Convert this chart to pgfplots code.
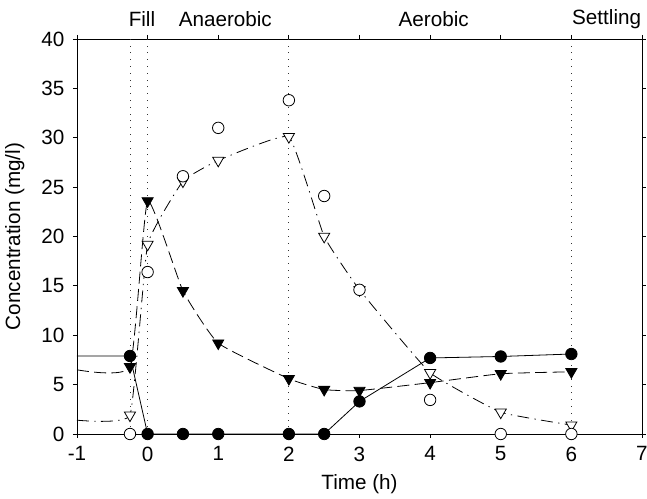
\documentclass[border=0pt]{standalone}
\usepackage{pgfplots}
\pgfplotsset{compat=1.18}
\usepackage{fontspec}
\setmainfont{Liberation Sans}
\begin{document}
\begin{tikzpicture}[x=1pt,y=1pt]
\begin{axis}[
  scale only axis, width=423.75pt, height=296.25pt,
  xmin=-1, xmax=7, ymin=0, ymax=40,
  xtick={-1,0,...,7}, ytick={0,5,...,40},
  tick align=outside, major tick length=3pt,
  tick style={black, line width=0.6pt},
  axis line style={black, line width=0.7pt},
  /pgf/number format/assume math mode=true,
  font=\fontsize{15.5}{18}\selectfont,
  ticklabel style={font=\fontsize{15.5}{18}\selectfont},
  xticklabel style={yshift=-3pt},
  yticklabel style={xshift=-3pt},
  xlabel={Time (h)}, ylabel={Concentration (mg/l)},
  xlabel style={at={(axis description cs:0.5,-0.128)}, anchor=center},
  ylabel style={at={(axis description cs:-0.11,0.5)}, anchor=center},
  clip=false,
]
% vertical dotted lines
\addplot[black!80, line width=0.6pt, dash pattern=on 0.6pt off 4.5pt] coordinates {(-0.25,0) (-0.25,40)};
\addplot[black!80, line width=0.6pt, dash pattern=on 0.6pt off 4.5pt] coordinates {(0,0) (0,40)};
\addplot[black!80, line width=0.6pt, dash pattern=on 0.6pt off 4.5pt] coordinates {(2,0) (2,40)};
\addplot[black!80, line width=0.6pt, dash pattern=on 0.6pt off 4.5pt] coordinates {(6,0) (6,40)};
% open triangles, dash-dot
\addplot[black, line width=0.6pt, dash pattern=on 9pt off 4pt on 1pt off 4pt, smooth, tension=0.2,
  mark=triangle*, mark size=4.8pt, mark phase=2, mark repeat=1,
  mark options={solid, fill=white, line width=0.6pt, rotate=180}] coordinates {
  (-1,1.4) (-0.25,1.9) (0,19.2) (0.5,25.6) (1,27.7) (2,30.1) (2.5,20) (3,14.6) (4,6.2) (5,2.2) (6,0.9)};
% filled triangles, dashed
\addplot[black, line width=0.6pt, dash pattern=on 9pt off 4pt, smooth, tension=0.25,
  mark=triangle*, mark size=4.8pt, mark phase=2, mark repeat=1,
  mark options={solid, fill=black, rotate=180}] coordinates {
  (-1,6.5) (-0.25,6.8) (0,23.6) (0.5,14.5) (1,9.2) (2,5.6) (2.5,4.5) (3,4.4) (4,5.2) (5,6.1) (6,6.3)};
% filled circles, solid
\addplot[black, line width=0.6pt, solid,
  mark=*, mark size=4.3pt, mark phase=2, mark repeat=1,
  mark options={solid, fill=black}] coordinates {
  (-1,7.9) (-0.25,7.9) (0,0) (0.5,0) (1,0) (2,0) (2.5,0) (3,3.3) (4,7.7) (5,7.85) (6,8.1)};
% open circles, no line
\addplot[black, only marks, mark=*, mark size=4.3pt, mark options={fill=white, line width=0.6pt}] coordinates {
  (-0.25,0) (0,16.4) (0.5,26.1) (1,31.0) (2,33.8) (2.5,24.1) (3,14.6) (4,3.45) (5,0) (6,0)};
% phase labels
\node at (axis cs:-0.08,42.0) {Fill};
\node at (axis cs:1.1,42.0) {Anaerobic};
\node at (axis cs:4.05,42.0) {Aerobic};
\node at (axis cs:6.5,42.0) {Settling};
\end{axis}
\pgfresetboundingbox
\path (-57.75pt,-48.75pt) rectangle (427.5pt,325.5pt);
\end{tikzpicture}
\end{document}
